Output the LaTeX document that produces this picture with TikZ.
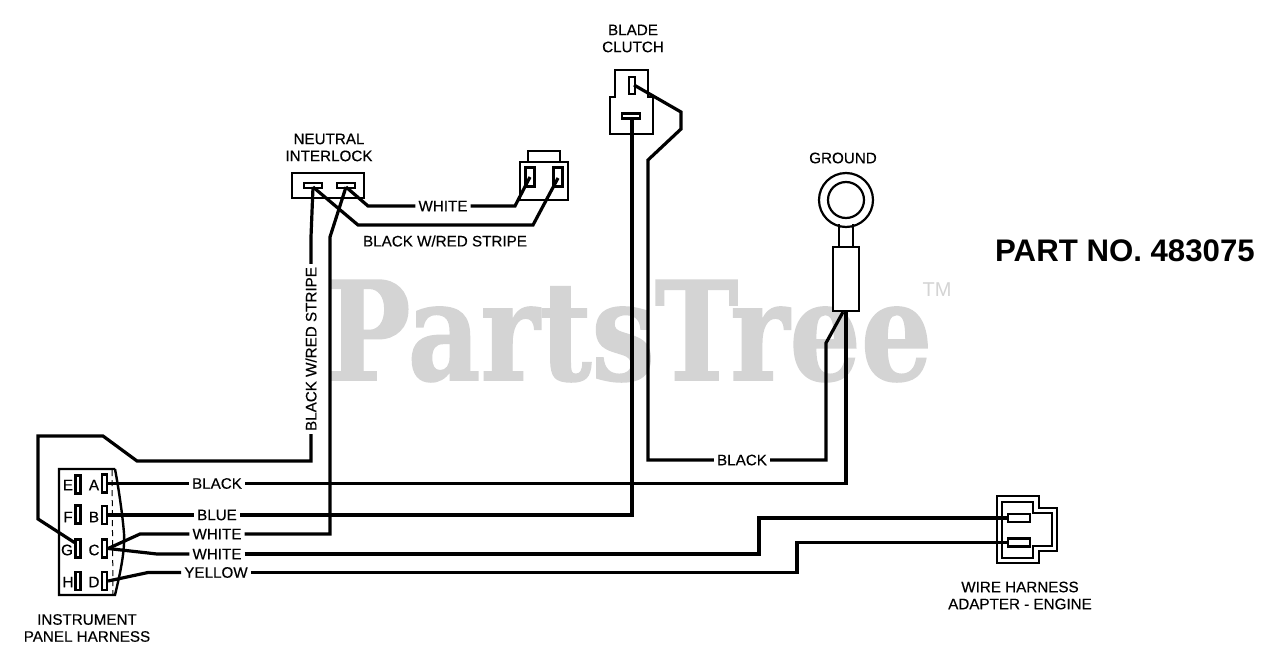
\documentclass[tikz,border=0pt]{standalone}
\usepackage{fontspec}
\setmainfont{Liberation Sans}
\newfontfamily\wmfont[BoldFeatures={FakeBold=1.2}]{DejaVu Serif}
\newfontfamily\labfont[FakeBold=0.35]{Liberation Sans}
\definecolor{wmgray}{HTML}{D4D4D4}
\tikzset{
  wire/.style={line width=3.2pt,line join=miter,line cap=butt},
  part/.style={draw,line width=2.4pt,fill=white,inner sep=0pt,minimum width=#1},
  lab/.style={font=\labfont\fontsize{15.2}{17}\selectfont,inner sep=3pt,text=black},
  pin/.style={font=\labfont\fontsize{15.2}{17}\selectfont,inner sep=0pt},
  tv/.style={draw,line width=2.2pt,fill=white,minimum width=5pt,minimum height=18pt,inner sep=0pt},
  th/.style={draw,line width=2.2pt,fill=white,minimum height=5pt,minimum width=18pt,inner sep=0pt},
  outline/.style={line width=2.4pt,line join=miter},
}
\begin{document}
\begin{tikzpicture}[x=1pt,y=-1pt]
\useasboundingbox (0,0) rectangle (1280,664);
\fill[white] (0,0) rectangle (1280,664);
% watermark
\node[anchor=base west,inner sep=0pt,text=wmgray,font=\wmfont\bfseries\fontsize{137}{137}\selectfont,xscale=0.82] (wm) at (326,380) {PartsTree};
\node[anchor=center,inner sep=0pt,text=wmgray,font=\fontsize{20}{20}\selectfont] (tm) at (937,290) {TM};
% instrument panel
\draw[outline,fill=white] (115,469) -- (59,469) -- (59,595) -- (115,595) .. controls (121,570) and (125,550) .. (124,533) .. controls (122,510) and (118,485) .. (115,469);
\draw[line width=1pt,dash pattern=on 6pt off 4pt] (112,470) -- (113,594);
\node[tv] (E) at (78,484.5) {};
\node[tv] (F) at (78,514.5) {};
\node[tv] (G) at (78,548.5) {};
\node[tv] (H) at (78,581) {};
\node[tv] (A) at (104.5,483.5) {};
\node[tv] (B) at (104.5,515) {};
\node[tv] (C) at (104.5,548.5) {};
\node[tv] (D) at (104.5,581) {};
\node[pin] (pE) at (68,485) {E};
\node[pin] (pF) at (68,517) {F};
\node[pin] (pG) at (67,550) {G};
\node[pin] (pH) at (68,582) {H};
\node[pin] (pA) at (94,485) {A};
\node[pin] (pB) at (94,517) {B};
\node[pin] (pC) at (94,550) {C};
\node[pin] (pD) at (94,582) {D};
% neutral interlock
\node[part=72pt,minimum height=25pt] (ni) at (328,185.5) {};
\node[th] (n1) at (313,185.5) {};
\node[th] (n2) at (346,185.5) {};
% plug
\draw[outline] (528,162) -- (528,151) -- (560,151) -- (560,162);
\node[part=48pt,minimum height=38pt] (plug) at (544,181) {};
\node[draw,line width=2.2pt,fill=white,minimum width=9pt,minimum height=19pt,inner sep=0pt] (p1) at (530,177) {};
\node[draw,line width=2.2pt,fill=white,minimum width=9pt,minimum height=19pt,inner sep=0pt] (p2) at (558,177) {};
% blade clutch
\draw[outline,fill=white] (615,97) -- (615,70) -- (648,70) -- (648,97) -- (653,97) -- (653,134) -- (610,134) -- (610,97) -- cycle;
\node[draw,line width=2.2pt,fill=white,minimum width=6pt,minimum height=17pt,inner sep=0pt] (c1) at (632,85.5) {};
\node[th] (c2) at (631,116) {};
% ground
\draw[line width=2.2pt] (839,224) -- (839,247) (853,224) -- (853,247);
\node[circle,draw,line width=2.2pt,minimum size=54pt,inner sep=0pt] (g1) at (846,200) {};
\node[circle,draw,line width=2.2pt,minimum size=36pt,inner sep=0pt] (g2) at (846,200) {};
\node[part=26pt,minimum height=64pt] (g3) at (846,279) {};
% adapter
\draw[outline] (997,496) -- (1039,496) -- (1039,508) -- (1057,508) -- (1057,551) -- (1039,551) -- (1039,563) -- (997,563) -- cycle;
\draw[outline] (1002,502) -- (1033,502) -- (1033,513) -- (1052,513) -- (1052,546) -- (1033,546) -- (1033,558) -- (1002,558) -- cycle;
\node[draw,line width=2.2pt,fill=white,minimum width=22pt,minimum height=8pt,inner sep=0pt] (w1) at (1019,518) {};
\node[draw,line width=2.2pt,fill=white,minimum width=22pt,minimum height=8pt,inner sep=0pt] (w2) at (1019,542.5) {};
% labels on wires
\node[lab] (lblack) at (217,483.5) {BLACK};
\node[lab] (lblue) at (217,515) {BLUE};
\node[lab] (lw1) at (217,534) {WHITE};
\node[lab] (lw2) at (217,554) {WHITE};
\node[lab] (lyel) at (216,572.5) {YELLOW};
\node[lab] (lblack2) at (742,460) {BLACK};
\node[lab] (lw3) at (443,206) {WHITE};
\node[lab,rotate=90] (lstripe) at (311,349) {BLACK W/RED STRIPE};
\node[lab] (lstripe2) at (445,241) {BLACK W/RED STRIPE};
% captions
\node[lab,align=center] (cap1) at (87,628) {INSTRUMENT\\PANEL HARNESS};
\node[lab,align=center] (cap2) at (329,147.5) {NEUTRAL\\INTERLOCK};
\node[lab,align=center] (cap3) at (633,38.5) {BLADE\\CLUTCH};
\node[lab] (cap4) at (843,158) {GROUND};
\node[lab,align=center] (cap5) at (1020,595.5) {WIRE HARNESS\\ADAPTER - ENGINE};
\node[inner sep=0pt,font=\bfseries\fontsize{31.2}{33}\selectfont] (pn) at (1125,251) {PART NO. 483075};
% wires
\draw[wire] ([yshift=6pt]G.west) -- (38,519) -- (38,436) -- (103,436) -- (137,461) -- (311,461) -- (lstripe.west);
\draw[wire] (lstripe.east) -- (311,237) -- (313,187);
\draw[wire] (C.east) -- (140,534) -- (lw1.west);
\draw[wire] (lw1.east) -- (330,534) -- (330,237) -- (346,187);
\draw[wire] (C.east) -- (157,554) -- (lw2.west);
\draw[wire] (lw2.east) -- (759,554) -- (759,518) -- (w1.west);
\draw[wire] (D.east) -- (148,572.5) -- (lyel.west);
\draw[wire] (lyel.east) -- (797,572.5) -- (797,542.5) -- (w2.west);
\draw[wire] (A.east) -- (lblack.west);
\draw[wire] (lblack.east) -- (846,483.5) -- (g3.south);
\draw[wire] (B.east) -- (lblue.west);
\draw[wire] (lblue.east) -- (632,515) -- (632,119);
\draw[wire] (lblack2.east) -- (826,460) -- (826,343) -- (843,312);
\draw[wire] (lblack2.west) -- (648,460) -- (648,160) -- (681,129) -- (681,112) -- (634,85);
\draw[wire] (346,187) -- (368,206) -- (lw3.west);
\draw[wire] (lw3.east) -- (515,206) -- (530,177);
\draw[wire] (313,187) -- (358,225) -- (533,225) -- (558,178);
\end{tikzpicture}
\end{document}
